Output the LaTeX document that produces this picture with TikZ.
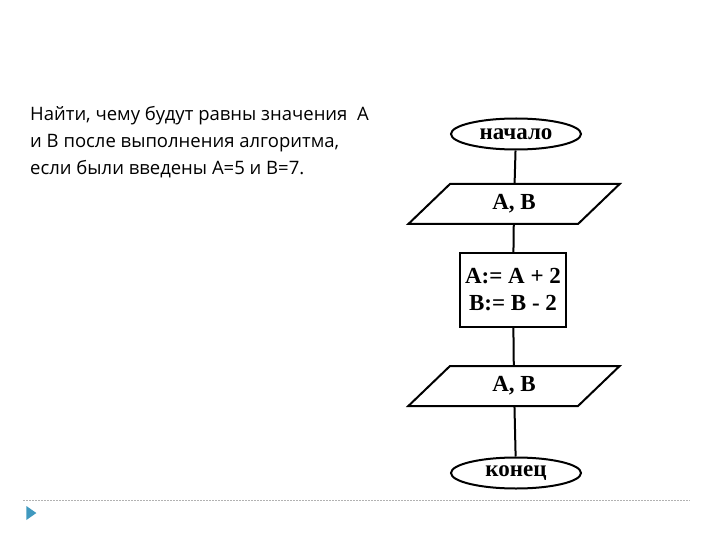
\documentclass[tikz,border=0pt]{standalone}
\usepackage{fontspec}
\setmainfont{Liberation Serif}
\newfontfamily\txt{Open Sans}
\usetikzlibrary{shapes.geometric}
\tikzset{
  flow/.style={draw,line width=2pt,font=\bfseries\fontsize{23}{27}\selectfont},
  term/.style={flow,ellipse,minimum width=130pt,minimum height=31pt,inner sep=0pt},
  io/.style={flow,trapezium,trapezium left angle=53,trapezium right angle=127,minimum height=40pt,minimum width=212pt,inner sep=0pt,trapezium stretches=true},
  proc/.style={flow,rectangle,minimum width=106pt,minimum height=74pt,inner sep=2pt,align=center},
  conn/.style={line width=2pt}
}
\begin{document}
\begin{tikzpicture}[x=1pt,y=-1pt]
\useasboundingbox (0,0) rectangle (720,540);
\node[anchor=north west,align=left,font=\txt\fontsize{18.5}{27}\selectfont,inner sep=0pt] (task) at (30,106)
 {Найти, чему будут равны значения \ A\\и B после выполнения алгоритма,\\если были введены A=5 и B=7.};
\node[term] (start) at (516,134) {начало};
\node[io] (in) at (514,204) {A, B};
\node[proc] (calc) at (513,290) {A:= A + 2\\B:= B - 2};
\node[io] (out) at (514,386) {A, B};
\node[term] (end) at (516,473) {конец};
\draw[conn] (start) -- (in);
\draw[conn] (in) -- (calc);
\draw[conn] (calc) -- (out);
\draw[conn] (out) -- (end);
\coordinate (l1) at (23,500);
\coordinate (l2) at (690,500);
\draw[gray!60,dash pattern=on 2pt off 1pt,line width=0.8pt] (l1) -- (l2);
\node[fill=blue!30!cyan!50!gray,draw=none,isosceles triangle,isosceles triangle apex angle=70,minimum width=13pt,minimum height=10pt,inner sep=0pt] (mark) at (30,513) {};
\end{tikzpicture}
\end{document}
